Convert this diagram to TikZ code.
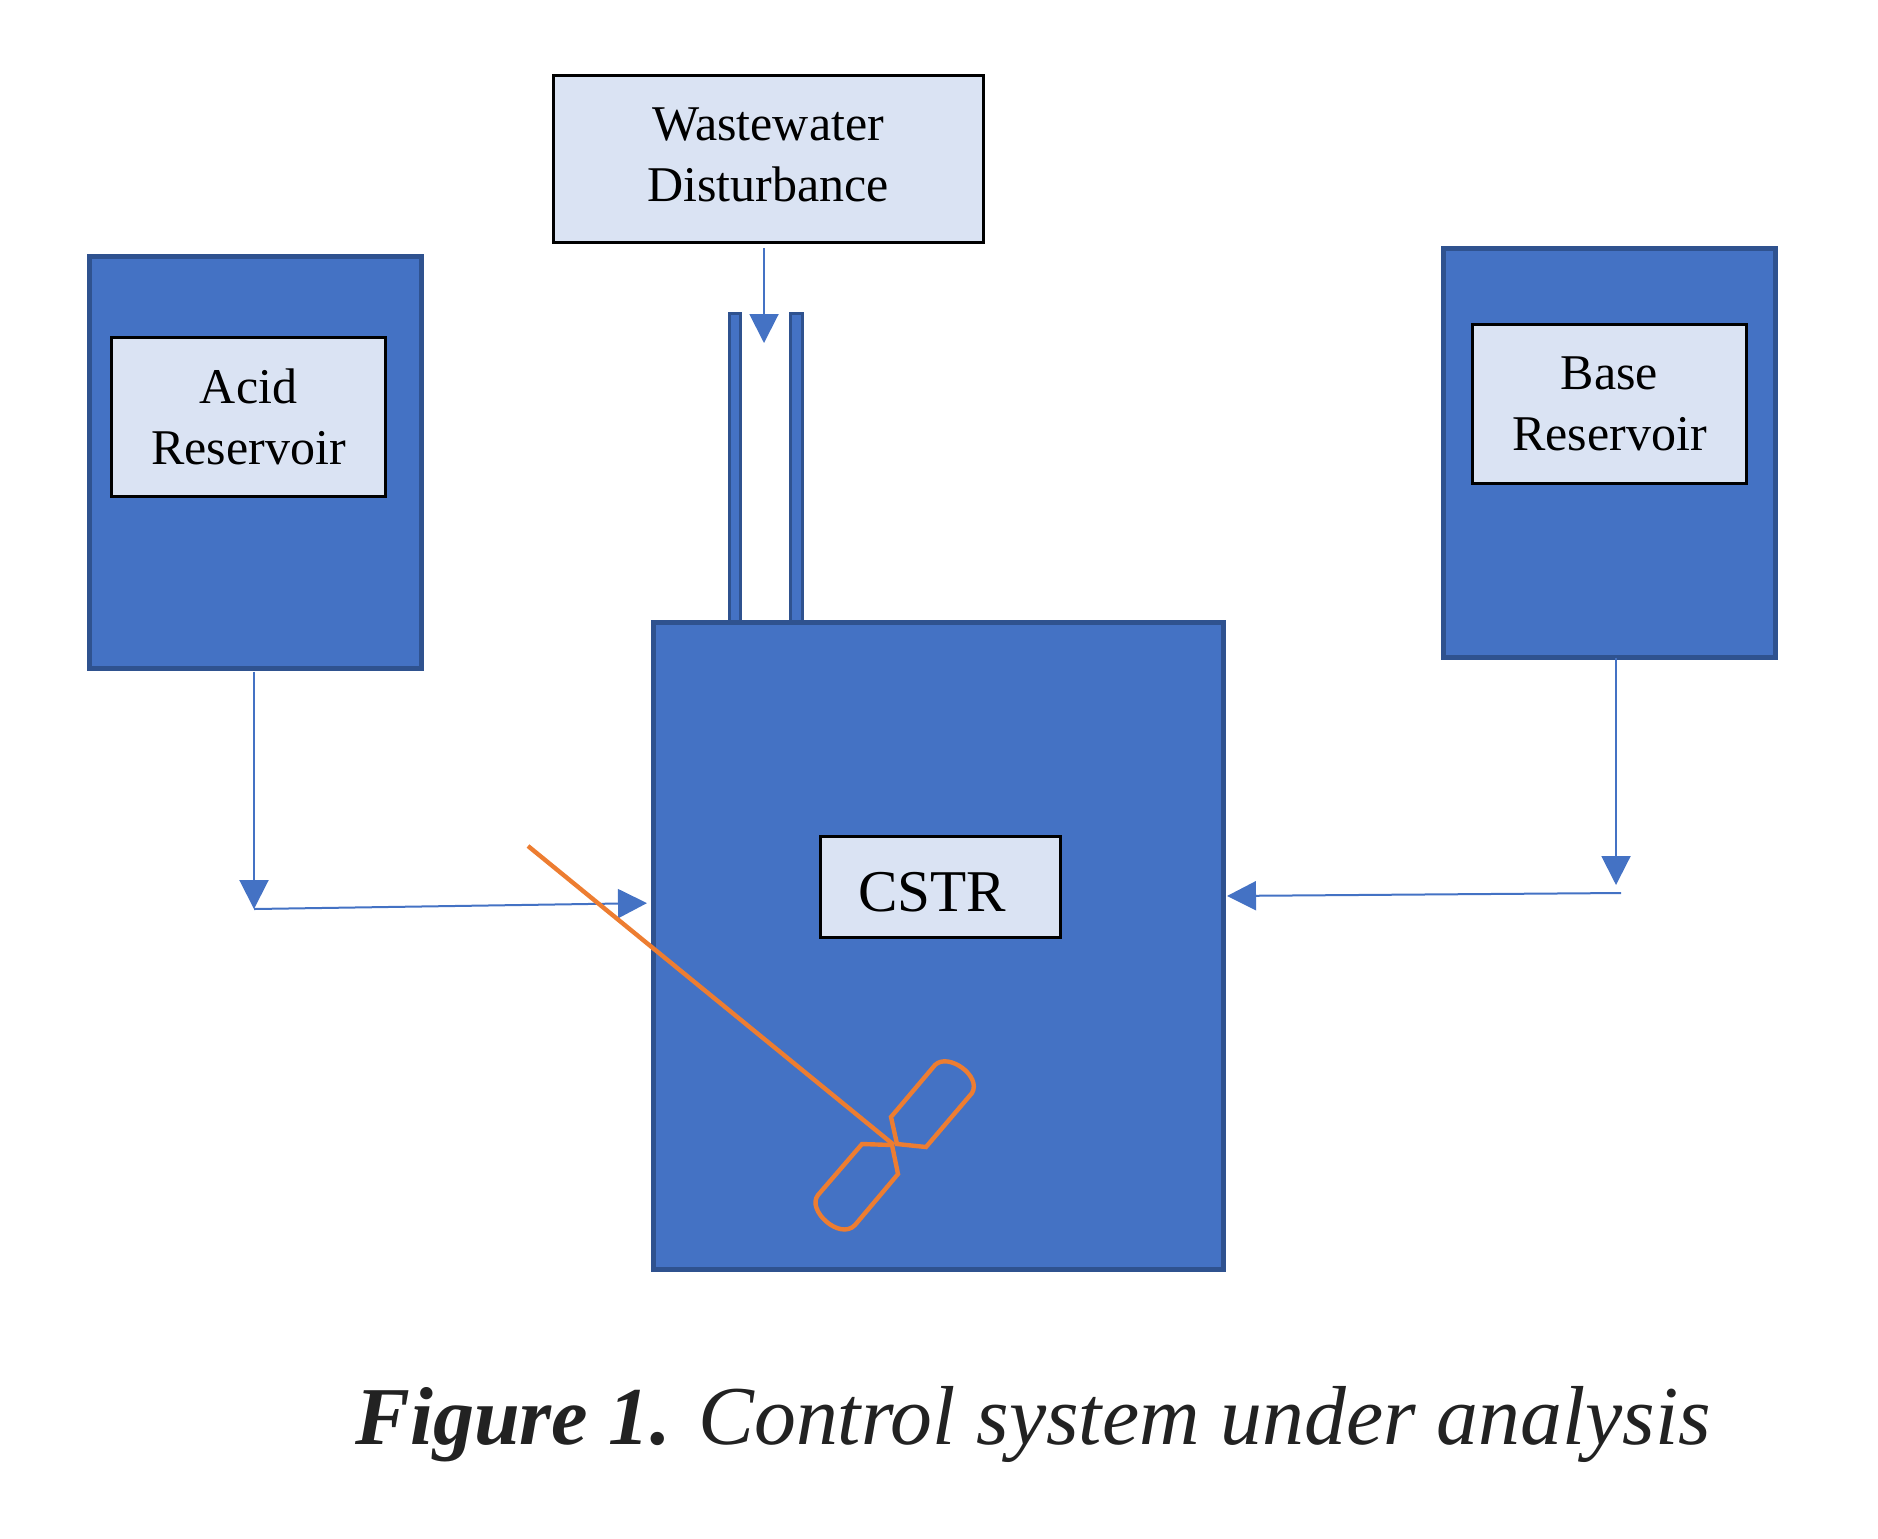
\documentclass[tikz,border=0pt]{standalone}
\usepackage{fontspec}
\setmainfont{Liberation Serif}
\usepackage{tikz}
\usetikzlibrary{arrows.meta}
\definecolor{tankblue}{HTML}{4472C4}
\definecolor{tankedge}{HTML}{2F528F}
\definecolor{labelblue}{HTML}{DAE3F3}
\definecolor{stirrer}{HTML}{ED7D31}
\definecolor{captiongray}{HTML}{222222}

\tikzset{
    tank/.style={draw=tankedge,fill=tankblue,line width=2.5pt,inner sep=0pt,outer sep=0pt},
    tag/.style={draw=black,fill=labelblue,line width=1.5pt,inner sep=0pt,outer sep=0pt,align=center,
        font=\fontsize{25}{30.5}\selectfont},
    flow/.style={draw=tankblue,line width=1pt,-{Triangle[length=14.5pt,width=14.5pt]}},
    blade/.style={draw=stirrer,line width=2.2pt,line join=miter}
}

\begin{document}
\begin{tikzpicture}[x=0.5pt,y=-0.5pt]
    \useasboundingbox (0, 0) rectangle (1878, 1538);

    \draw[tank,line width=1.5pt] (729.8, 313.2) rectangle (740.2, 640);
    \draw[tank,line width=1.5pt] (790.5, 313.2) rectangle (802.2, 640);

    \node[tank,minimum width=166pt,minimum height=206pt] (acid) at (255.5, 462.5) {};
    \node[tank,minimum width=166pt,minimum height=204.5pt] (base) at (1609.5, 453) {};
    \node[tank,minimum width=285pt,minimum height=323.5pt] (cstr) at (938.5, 946) {};

    \node[tag,minimum width=137pt,minimum height=79.5pt] (acidlabel) at (248.5, 417) {Acid\\Reservoir};
    \node[tag,minimum width=137pt,minimum height=79.5pt] (baselabel) at (1609.5, 404) {Base\\Reservoir};
    \node[tag,minimum width=215pt,minimum height=83.5pt,text depth=4pt] (wastelabel) at (768, 158.7) {Wastewater\\Disturbance};
    \node[tag,minimum width=120pt,minimum height=50.5pt,text height=24.6pt,text depth=0pt,
        font=\fontsize{29.6}{34}\selectfont] (cstrlabel) at (940.5, 887) {CSTR\hspace{8.2pt}};

    \coordinate (wasteend) at (764, 343);
    \coordinate (acidjoin) at (254, 909);
    \coordinate (acidentry) at (647, 903);
    \coordinate (basejoin) at (1616, 885);
    \coordinate (basestart) at (1621, 893);
    \coordinate (baseentry) at (1227, 896);

    \draw[flow] ([yshift=-3pt]wastelabel.south -| wasteend) -- (wasteend);
    \draw[flow] ([yshift=-1.5pt]acid.south -| acidjoin) -- (acidjoin);
    \draw[flow,shorten >=3.25pt] (acidjoin) -- (cstr.west |- acidentry);
    \draw[flow] (base.south -| basejoin) -- (basejoin);
    \draw[flow,shorten >=1.75pt] (basestart) -- (cstr.east |- baseentry);

    % stirrer
    \coordinate (hub) at (894, 1145);
    \draw[blade] (528, 846) -- (hub);
    \draw[blade] (897, 1144) -- (891, 1117) -- (935, 1065)
        .. controls (948, 1052) and (982, 1076) .. (972, 1093) -- (926, 1147) -- cycle;
    \draw[blade] (892, 1145) -- (862, 1144) -- (818, 1195)
        .. controls (806, 1210) and (840, 1241) .. (855, 1225) -- (898, 1174) -- cycle;

    \node[anchor=base west,inner sep=0pt,text=captiongray,font=\fontsize{41.85}{50}\selectfont] (caption) at (355, 1444)
        {{\fontsize{41.1}{50}\selectfont\textbf{\textit{Figure 1.}}} \textit{Control system under analysis}};
\end{tikzpicture}
\end{document}
